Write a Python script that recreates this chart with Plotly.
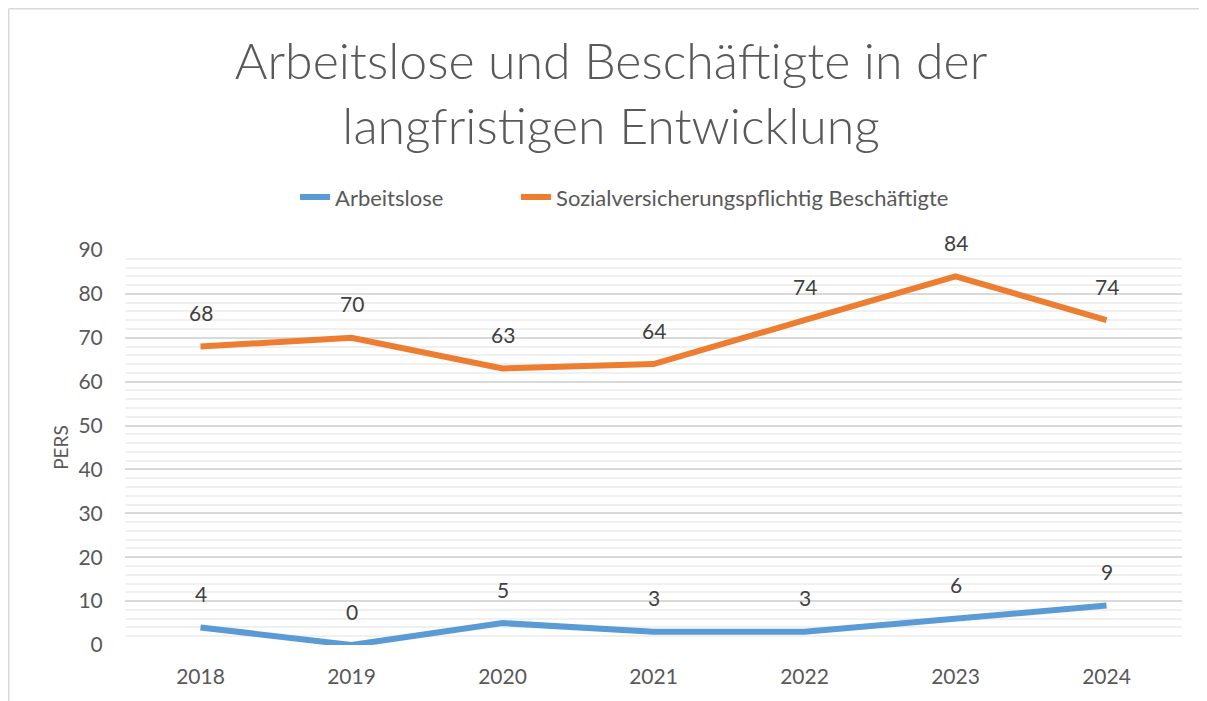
import plotly.graph_objects as go

years = ["2018", "2019", "2020", "2021", "2022", "2023", "2024"]
arbeitslose = [4, 0, 5, 3, 3, 6, 9]
beschaeftigte = [68, 70, 63, 64, 74, 84, 74]
series_names = ["Arbeitslose", "Sozialversicherungspflichtig Beschäftigte"]
colors = ["#5B9BD5", "#ED7D31"]
legend_ids = ["legend", "legend2"]

FONT = "Lato"
TXT = "#595959"

fig = go.Figure()
for name, vals, col, lg in zip(series_names, [arbeitslose, beschaeftigte], colors, legend_ids):
    fig.add_trace(go.Scatter(
        x=years, y=vals, name=name, mode="lines",
        line=dict(color=col, width=6, shape="linear"),
        hoverinfo="x+y+name", legend=lg,
    ))

annotations = []
for vals in [arbeitslose, beschaeftigte]:
    for i, v in enumerate(vals):
        annotations.append(dict(
            x=i, y=v, xref="x", yref="y", text=str(v), showarrow=False,
            yshift=34, font=dict(family=FONT, size=21, color="#404040"),
        ))

legend_common = dict(
    orientation="h", xref="container", xanchor="left",
    y=0.727, yref="container", yanchor="middle",
    font=dict(family=FONT, size=22, color=TXT),
    bgcolor="rgba(0,0,0,0)",
)

fig.update_layout(
    width=1199, height=693,
    paper_bgcolor="white", plot_bgcolor="white",
    margin=dict(l=117, r=25, t=242, b=56, autoexpand=False),
    font=dict(family=FONT, color=TXT),
    title=dict(
        text="Arbeitslose und Beschäftigte in der<br>langfristigen Entwicklung",
        x=0.503, xref="container", xanchor="center",
        y=0.8976, yref="container", yanchor="top",
        font=dict(family=FONT, size=50, color=TXT, weight=300),
    ),
    showlegend=True,
    legend=dict(x=0.2394, **legend_common),
    legend2=dict(x=0.4237, **legend_common),
    annotations=annotations,
    shapes=[
        dict(type="line", xref="paper", yref="paper", x0=-0.1100, x1=1.1, y0=1.6108, y1=1.6108,
             line=dict(color="#D9D9D9", width=1.5)),
        dict(type="line", xref="paper", yref="paper", x0=-0.1100, x1=-0.1100, y0=1.6108, y1=-0.2,
             line=dict(color="#D9D9D9", width=1.5)),
    ],
)

fig.update_xaxes(
    type="category", range=[-0.5, 6.5],
    showgrid=False, zeroline=False, showline=False,
    ticks="outside", ticklen=13, tickcolor="rgba(0,0,0,0)",
    tickfont=dict(family=FONT, size=21, color=TXT),
)
fig.update_yaxes(
    range=[0, 90], dtick=10, tick0=0,
    showgrid=True, gridcolor="#D9D9D9", gridwidth=1.5,
    zeroline=False, showline=False,
    minor=dict(dtick=2, showgrid=True, gridcolor="#F0F0F0", gridwidth=1.5),
    ticks="outside", ticklen=17, tickcolor="rgba(0,0,0,0)",
    tickfont=dict(family=FONT, size=21, color=TXT),
    title=dict(text="PERS", font=dict(family=FONT, size=19, color=TXT), standoff=4),
)

fig.write_html("out.html")
